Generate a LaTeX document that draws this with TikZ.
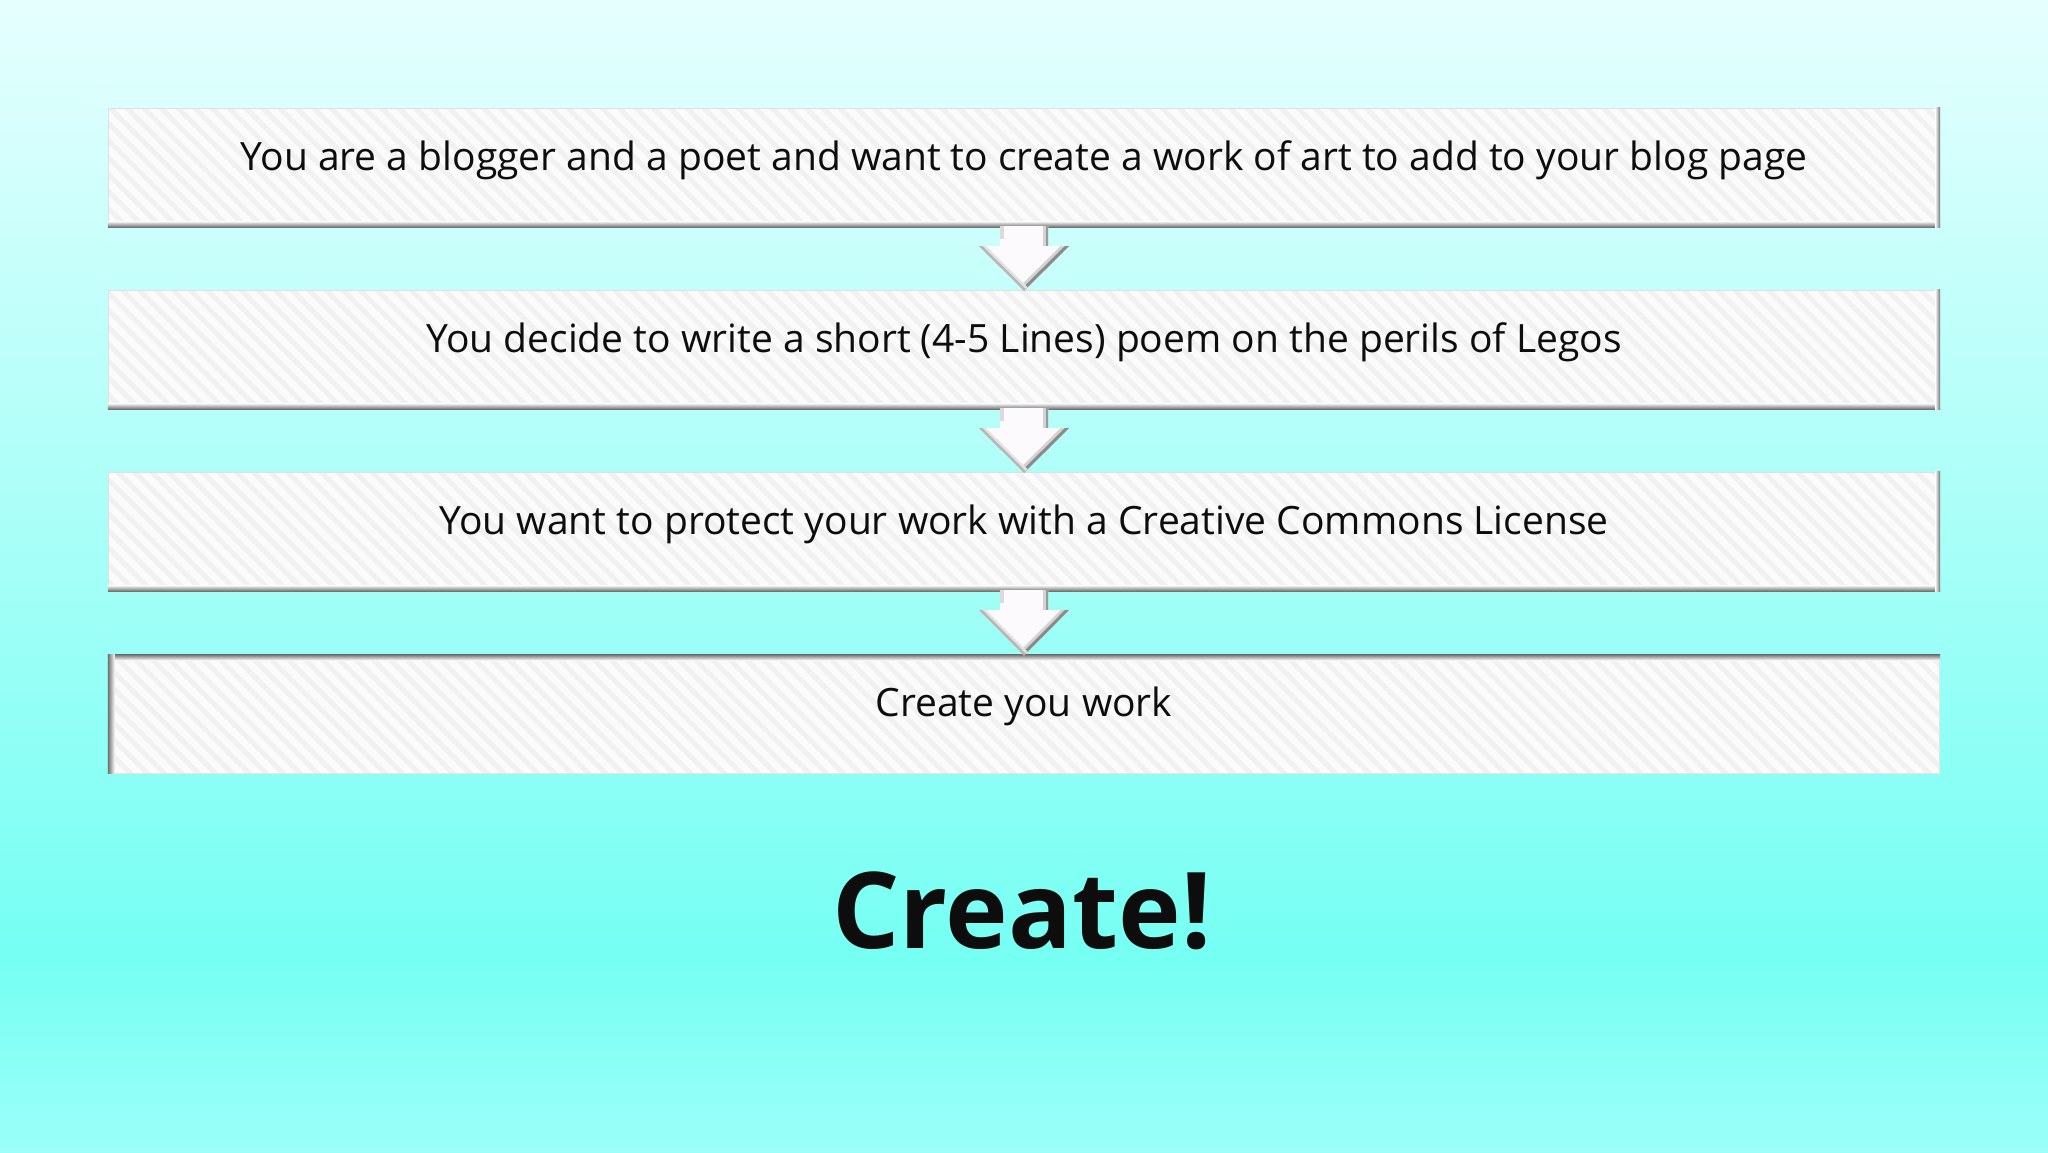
\documentclass[tikz,border=0pt]{standalone}
\usepackage{fontspec}
\setmainfont{Open Sans}
\usetikzlibrary{calc,patterns.meta}
\definecolor{bgtop}{HTML}{E6FFFE}
\definecolor{bgmid}{HTML}{76FFF3}
\definecolor{bgbot}{HTML}{9CFFF9}
\definecolor{boxw}{HTML}{FBFBFB}
\definecolor{stripe}{HTML}{F1F1F1}
\definecolor{edge}{HTML}{6E6E6E}
\definecolor{arrw}{HTML}{FCFAFD}
\definecolor{txt}{HTML}{0D0D0D}
\tikzset{
  stepbox/.style={rectangle, minimum width=1832pt, minimum height=119pt, inner sep=0pt,
    fill=boxw, font=\fontsize{39}{46}\selectfont, text=txt, text height=31pt, text depth=26pt,
    postaction={pattern={Lines[angle=-45,distance=12pt,line width=5pt]}, pattern color=stripe}},
  bigtext/.style={font=\fontsize{106}{126}\selectfont\bfseries, text=txt, anchor=base}
}
\newcommand{\flowarrow}[2]{%
  \fill[arrw] ($(#1.south)+(-24,-1)$) -- ($(#1.south)+(-24,19)$) -- ($(#1.south)+(-45,19)$)
     -- ($(#2.north)+(0,1)$) -- ($(#1.south)+(45,19)$) -- ($(#1.south)+(24,19)$)
     -- ($(#1.south)+(24,-1)$) -- cycle;
  \begin{scope}
    \clip ($(#1.south)+(-24,-1)$) -- ($(#1.south)+(-24,19)$) -- ($(#1.south)+(-45,19)$)
     -- ($(#2.north)+(0,1)$) -- ($(#1.south)+(45,19)$) -- ($(#1.south)+(24,19)$)
     -- ($(#1.south)+(24,-1)$) -- cycle;
    \draw[edge!30, line width=10pt] ($(#1.south)+(24,-2)$) -- ($(#1.south)+(24,19)$);
    \draw[edge!70, line width=5pt] ($(#1.south)+(24,-2)$) -- ($(#1.south)+(24,19)$);
    \draw[edge!25, line width=8pt] ($(#1.south)+(-24,-2)$) -- ($(#1.south)+(-24,12)$);
    \draw[edge!30, line width=12pt] ($(#1.south)+(45,19)$) -- ($(#2.north)+(0,1)$);
    \draw[edge!80, line width=6pt] ($(#1.south)+(45,19)$) -- ($(#2.north)+(0,1)$);
    \draw[edge!20, line width=10pt] ($(#1.south)+(-45,19)$) -- ($(#2.north)+(0,1)$);
    \draw[edge!50, line width=5pt] ($(#1.south)+(-45,19)$) -- ($(#2.north)+(0,1)$);
  \end{scope}%
}
\newcommand{\bevelout}[1]{%
  \shade[top color=boxw, bottom color=edge] ($(#1.south west)+(0,-6)$) rectangle (#1.south east);
  \shade[left color=boxw, right color=edge] ($(#1.north east)+(-5,0)$) rectangle (#1.south east);
  \draw[black!12, line width=1pt] ($(#1.south west)+(0.5,-6)$) -- ($(#1.north west)+(0.5,0.5)$) -- ($(#1.north east)+(-5,0.5)$);
}
\newcommand{\bevelin}[1]{%
  \shade[top color=edge, bottom color=boxw] (#1.north west) rectangle ($(#1.north east)+(0,6)$);
  \shade[left color=edge, right color=boxw] (#1.north west) rectangle ($(#1.south west)+(7,0)$);
  \draw[black!10, line width=1pt] ($(#1.south west)+(6,-0.5)$) -- ($(#1.south east)+(-0.5,-0.5)$) -- ($(#1.north east)+(-0.5,6)$);
}
\begin{document}
\begin{tikzpicture}[x=1pt,y=-1pt]
  \useasboundingbox (0,0) rectangle (2048,1152);
  \shade[top color=bgtop, bottom color=bgmid] (0,0) rectangle (2048,960);
  \shade[top color=bgmid, bottom color=bgbot] (0,959) rectangle (2048,1152);

  \node[stepbox] (b1) at (1024,167.5) {You are a blogger and a poet and want to create a work of art to add to your blog page};
  \node[stepbox] (b2) at (1024,349.5) {You decide to write a short (4-5 Lines) poem on the perils of Legos};
  \node[stepbox] (b3) at (1024,531.5) {You want to protect your work with a Creative Commons License};
  \node[stepbox] (b4) at (1024,714) {Create you work};

  \bevelout{b1}
  \bevelout{b2}
  \bevelout{b3}
  \bevelin{b4}

  \flowarrow{b1}{b2}
  \flowarrow{b2}{b3}
  \flowarrow{b3}{b4}

  \node[bigtext] (cr) at (1022,948) {Create!};
\end{tikzpicture}
\end{document}
